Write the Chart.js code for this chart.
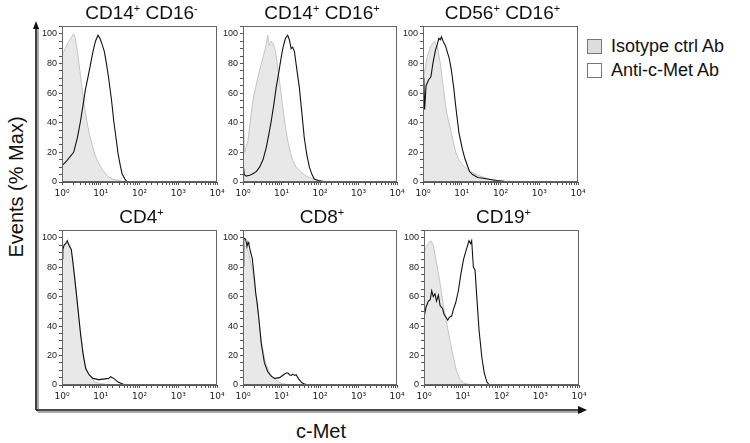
<!DOCTYPE html>
<html>
<head>
<meta charset="utf-8">
<script src="https://cdn.jsdelivr.net/npm/chart.js@4"></script>
<style>
  body { margin: 0; background: #fff; }
  #fig { position: relative; width: 750px; height: 443px; font-family: "Liberation Sans", Arial, sans-serif; color: #111; }
  #fig canvas { position: absolute; }
  .ttl { position: absolute; font-size: 19px; transform: translate(-50%, -50%); white-space: nowrap; }
  .ttl sup { font-size: 11px; vertical-align: 7px; line-height: 0; }
  .lbl { position: absolute; font-size: 20px; white-space: nowrap; }
  .leg { position: absolute; font-size: 18px; white-space: nowrap; }
  .box { position: absolute; width: 15px; height: 15px; border: 1px solid #777; box-sizing: border-box; }
</style>
</head>
<body>
<div id="fig">
  <svg width="750" height="443" style="position:absolute;left:0;top:0">
    <line x1="38" y1="27" x2="38" y2="412" stroke="#aaa" stroke-width="2"/>
    <line x1="38" y1="412" x2="582" y2="412" stroke="#aaa" stroke-width="2"/>
    <line x1="36" y1="27" x2="36" y2="410" stroke="#111" stroke-width="1.6"/>
    <line x1="36" y1="410" x2="580" y2="410" stroke="#111" stroke-width="1.6"/>
    <polygon points="36,21 33,29 39,29" fill="#111"/>
    <polygon points="587,410 578,406 578,414" fill="#111"/>
  </svg>
  <div class="lbl" style="left:16px;top:187px;transform:translate(-50%,-50%) rotate(-90deg)">Events (% Max)</div>
  <div class="lbl" style="left:321px;top:431px;transform:translate(-50%,-50%)">c-Met</div>
  <div class="box" style="left:587px;top:39px;background:#ddd"></div>
  <div class="leg" style="left:611px;top:36px">Isotype ctrl Ab</div>
  <div class="box" style="left:587px;top:63px;background:#fff"></div>
  <div class="leg" style="left:611px;top:60px">Anti-c-Met Ab</div>
</div>
<script>
// CD14+ CD16-
var p1IsoX = [1, 1.2, 1.5, 1.8, 2, 2.2, 2.5, 3, 3.5, 4, 5, 6, 7, 8, 10, 12, 15, 20, 30, 40, 10000];
var p1IsoY = [85, 90, 95, 98, 100, 97, 88, 72, 58, 47, 33, 25, 19, 15, 10, 7, 4, 2, 1, 0, 0];
var p1MetX = [1, 1.3, 1.6, 2, 2.5, 3, 3.5, 4, 4.7, 5.4, 6.3, 7.3, 8.5, 9.5, 10.8, 12.4, 14, 16, 19, 21.7, 25, 28, 32, 35.5, 42, 48, 10000];
var p1MetY = [11, 14, 17, 20, 30, 41, 52, 62, 71, 79, 88, 95, 99, 97, 93, 88, 80, 70, 55, 41, 29, 19, 11, 5.6, 2, 0, 0];

// CD14+ CD16+
var p2IsoX = [1, 1.06, 1.1, 1.35, 1.5, 1.8, 2.1, 2.4, 2.8, 3.3, 3.8, 4.4, 4.8, 5.4, 6.2, 7, 8, 9.3, 10.8, 12.5, 14.5, 17, 19.6, 24, 29, 35, 43, 54, 65, 90, 117, 200, 10000];
var p2IsoY = [55, 55, 20, 28, 38, 55, 63, 70, 77, 84, 90, 99, 92, 95, 93, 88, 77, 64, 50, 38, 28, 20, 14.5, 10, 8, 6, 4, 3, 2, 1, 0.5, 0, 0];
var p2MetX = [1, 1.03, 1.08, 1.2, 1.5, 1.8, 2.2, 2.7, 3.3, 4, 4.6, 5.4, 6.3, 7.3, 8.5, 9.8, 11, 12.7, 14.5, 16, 17.8, 19.5, 21.7, 25, 29, 34, 39, 45, 53, 62, 71, 90, 117, 200, 316, 10000];
var p2MetY = [0, 10, 5, 4, 4.5, 5.6, 7, 10, 15, 23, 31, 41, 52, 64, 74, 84, 91, 97, 99, 96, 90, 91, 88, 76, 64, 46, 30, 19, 10, 5, 2, 1, 0.5, 0.3, 0, 0];

// CD56+ CD16+
var p3IsoX = [1, 1.1, 1.3, 1.6, 2, 2.4, 2.8, 3.3, 4, 4.5, 5.5, 7, 8.5, 10, 12, 15, 20, 30, 40, 50, 70, 100, 10000];
var p3IsoY = [60, 75, 85, 92, 95, 90, 80, 65, 48, 42, 32, 20, 15, 12, 10, 8, 6, 4, 3, 2, 1, 0.5, 0];
var p3MetX = [1, 1.05, 1.1, 1.2, 1.4, 1.6, 1.8, 2.1, 2.35, 2.55, 2.8, 3.0, 3.3, 3.8, 4.2, 4.7, 5.2, 5.7, 6.3, 7, 7.7, 8.5, 10.4, 12, 14, 16, 19, 26, 35, 47, 80, 126, 210, 10000];
var p3MetY = [51, 70, 49, 65, 69, 71, 80, 89, 93, 97, 96, 98, 95, 92, 88, 84, 78, 71, 62, 51, 42, 33, 22, 16, 11, 7, 5, 3, 2.5, 2, 1, 0.5, 0.3, 0];

// CD4+
var p4IsoX = [1, 1.2, 1.4, 1.6, 1.8, 2, 2.3, 2.6, 3, 3.5, 4, 5, 6, 7, 10, 15, 20, 10000];
var p4IsoY = [90, 96, 97, 95, 88, 80, 65, 50, 36, 22, 13, 7, 4, 2, 1, 0.3, 0, 0];
var p4MetX = [1, 1.05, 1.13, 1.25, 1.37, 1.5, 1.74, 1.9, 2.2, 2.6, 3, 3.5, 4.1, 5, 6.3, 7.7, 9, 10.4, 12, 14, 16, 18, 20, 23, 28, 38, 56, 10000];
var p4MetY = [86, 92, 95, 96, 98, 95, 92, 84, 69, 51, 35, 21, 11, 7, 4.5, 4, 3.5, 4, 4, 4.3, 4.5, 5.6, 5, 4, 2, 0.5, 0, 0];

// CD8+
var p5IsoX = [1, 1.2, 1.4, 1.7, 2, 2.3, 2.7, 3, 3.5, 4, 5, 6, 8, 10, 15, 20, 10000];
var p5IsoY = [95, 94, 90, 80, 68, 55, 40, 30, 20, 14, 8, 5, 2.5, 1, 0.3, 0, 0];
var p5MetX = [1, 1.03, 1.06, 1.17, 1.27, 1.35, 1.43, 1.55, 1.74, 2, 2.15, 2.3, 2.54, 2.98, 3.6, 4.4, 5.4, 6.6, 8.9, 11.3, 13.7, 15, 16, 18, 19.6, 22, 24, 28, 34, 42, 53, 10000];
var p5MetY = [81, 95, 100, 99, 94, 97, 95, 91, 86, 71, 62, 57, 47, 28, 15, 9, 6, 4.5, 5, 7, 8.3, 8, 7, 6.5, 7.4, 6.5, 7, 4, 1.5, 0.4, 0, 0];

// CD19+
var p6IsoX = [1, 1.1, 1.3, 1.5, 1.74, 2.1, 2.6, 3.2, 3.85, 4.7, 5.7, 7, 8.5, 10.4, 14, 20, 10000];
var p6IsoY = [89, 93, 96, 98, 95, 83, 69, 53, 42, 30, 19, 9, 4, 1.5, 0.5, 0, 0];
var p6MetX = [1, 1.13, 1.3, 1.45, 1.58, 1.74, 1.92, 2.1, 2.35, 2.6, 3, 3.3, 3.7, 4.1, 4.5, 5.2, 5.7, 6.6, 7.7, 8.9, 10.4, 11.5, 12.7, 14.5, 16, 17, 18.8, 20.8, 23, 26.4, 31, 36, 42, 47, 55, 10000];
var p6MetY = [46, 53, 57, 58, 64, 60, 62, 57, 61, 54, 52, 48, 46, 44, 46, 47, 51, 56, 64, 75, 85, 89, 93, 98, 96, 98, 80, 78, 60, 37, 19, 8, 2, 0.5, 0, 0];

var titles = ['CD14<sup>+</sup> CD16<sup>-</sup>', 'CD14<sup>+</sup> CD16<sup>+</sup>', 'CD56<sup>+</sup> CD16<sup>+</sup>',
              'CD4<sup>+</sup>', 'CD8<sup>+</sup>', 'CD19<sup>+</sup>'];
var yTicks = [0, 20, 40, 60, 80, 100];
var xTickLabels = {1: '10\u2070', 10: '10\u00b9', 100: '10\u00b2', 1000: '10\u00b3', 10000: '10\u2074'};

var series = [
  [p1IsoX, p1IsoY, p1MetX, p1MetY],
  [p2IsoX, p2IsoY, p2MetX, p2MetY],
  [p3IsoX, p3IsoY, p3MetX, p3MetY],
  [p4IsoX, p4IsoY, p4MetX, p4MetY],
  [p5IsoX, p5IsoY, p5MetX, p5MetY],
  [p6IsoX, p6IsoY, p6MetX, p6MetY]
];

// plot areas: left, right, top, bottom
var areas = [
  [62, 217, 25, 182], [243, 397, 25, 182], [423, 578, 25, 182],
  [62, 217, 229, 385], [243, 397, 229, 385], [424, 579, 229, 385]
];

var FONT = '"Liberation Sans", Arial, sans-serif';

function pts(xs, ys) {
  return xs.map(function (x, i) { return {x: x, y: ys[i]}; });
}

var boxPlugin = {
  id: 'box',
  afterDatasetsDraw: function (chart) {
    var a = chart.chartArea, ctx = chart.ctx;
    ctx.save();
    ctx.strokeStyle = '#666';
    ctx.lineWidth = 1;
    ctx.strokeRect(Math.round(a.left) + 0.5, Math.round(a.top) + 0.5,
                   Math.round(a.right - a.left) - 1, Math.round(a.bottom - a.top) - 1);
    ctx.restore();
  }
};

var fig = document.getElementById('fig');

areas.forEach(function (ar, i) {
  var L = ar[0], R = ar[1], T = ar[2], B = ar[3];
  var cv = document.createElement('canvas');
  cv.width = (R - L) + 40;
  cv.height = (B - T) + 28;
  cv.style.left = (L - 28) + 'px';
  cv.style.top = (T - 6) + 'px';
  fig.appendChild(cv);

  var t = document.createElement('div');
  t.className = 'ttl';
  t.innerHTML = titles[i];
  t.style.left = ((L + R) / 2 + 2) + 'px';
  t.style.top = (T - 12) + 'px';
  fig.appendChild(t);

  var s = series[i];
  new Chart(cv.getContext('2d'), {
    type: 'line',
    data: {
      datasets: [{
        label: 'Anti-c-Met Ab',
        data: pts(s[2], s[3]),
        borderColor: '#111',
        borderWidth: 1.1,
        pointRadius: 0,
        tension: 0,
        fill: false,
        order: 1
      }, {
        label: 'Isotype ctrl Ab',
        data: pts(s[0], s[1]),
        borderColor: '#c4c4c4',
        backgroundColor: '#e8e8e8',
        borderWidth: 1,
        pointRadius: 0,
        tension: 0,
        fill: 'origin',
        order: 2
      }]
    },
    options: {
      responsive: false,
      animation: false,
      devicePixelRatio: 1,
      layout: { padding: { top: 6, right: 12, left: 0, bottom: 0 } },
      plugins: { legend: { display: false }, tooltip: { enabled: false } },
      scales: {
        x: {
          type: 'logarithmic',
          min: 1,
          max: 10000,
          afterFit: function (sc) { sc.height = 22; },
          grid: { drawOnChartArea: false, tickLength: 3, color: '#555' },
          border: { color: '#555' },
          ticks: {
            autoSkip: false,
            maxRotation: 0,
            padding: 3,
            color: '#222',
            font: { size: 9, family: '"DejaVu Sans", sans-serif' },
            callback: function (v) { return xTickLabels[v] || ''; }
          }
        },
        y: {
          min: 0,
          max: 105,
          afterFit: function (sc) { sc.width = 28; },
          grid: { drawOnChartArea: false, tickLength: 3, color: '#555' },
          border: { color: '#555' },
          ticks: {
            stepSize: 5,
            autoSkip: false,
            padding: 2,
            color: '#222',
            font: { size: 9, family: FONT },
            callback: function (v) { return yTicks.indexOf(v) >= 0 ? v : ''; }
          }
        }
      }
    },
    plugins: [boxPlugin]
  });
});
</script>
</body>
</html>
